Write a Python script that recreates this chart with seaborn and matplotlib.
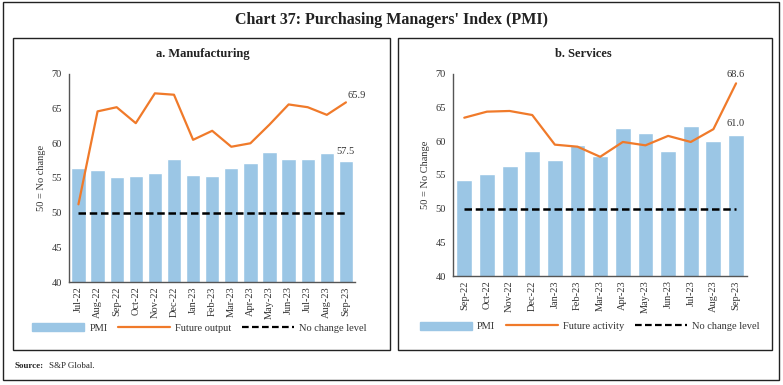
import numpy as np
import pandas as pd
import seaborn as sns
import matplotlib.pyplot as plt
from matplotlib.patches import Rectangle, Patch
from matplotlib.lines import Line2D

sns.set_theme(style="white")
plt.rcParams['font.family'] = ['Liberation Serif', 'DejaVu Serif']

# Data
mfg_months = ['Jul-22', 'Aug-22', 'Sep-22', 'Oct-22', 'Nov-22', 'Dec-22', 'Jan-23', 'Feb-23',
              'Mar-23', 'Apr-23', 'May-23', 'Jun-23', 'Jul-23', 'Aug-23', 'Sep-23']
mfg_pmi = [56.4, 56.2, 55.1, 55.3, 55.7, 57.8, 55.4, 55.3, 56.4, 57.2, 58.7, 57.8, 57.7, 58.6, 57.5]
mfg_future = [51.2, 64.6, 65.2, 62.9, 67.2, 67.0, 60.5, 61.8, 59.5, 60.0, 62.7, 65.6, 65.2, 64.1, 65.9]

svc_months = ['Sep-22', 'Oct-22', 'Nov-22', 'Dec-22', 'Jan-23', 'Feb-23', 'Mar-23', 'Apr-23',
              'May-23', 'Jun-23', 'Jul-23', 'Aug-23', 'Sep-23']
svc_pmi = [54.3, 55.1, 56.4, 58.5, 57.2, 59.4, 57.8, 62.0, 61.2, 58.5, 62.3, 60.1, 61.0]
svc_future = [63.5, 64.4, 64.5, 63.9, 59.5, 59.2, 57.7, 59.9, 59.4, 60.8, 59.9, 61.8, 68.6]

no_change = 50

bar_color = '#9BC6E5'
line_color = '#F07A2A'
text_color = '#333333'

fig = plt.figure(figsize=(7.83, 3.85), dpi=100)

# Frames
fig.patches.append(Rectangle((0.004, 0.012), 0.991, 0.983, transform=fig.transFigure,
                             fill=False, edgecolor='#222222', linewidth=1.0))
fig.patches.append(Rectangle((0.017, 0.091), 0.481, 0.810, transform=fig.transFigure,
                             fill=False, edgecolor='#222222', linewidth=1.0))
fig.patches.append(Rectangle((0.508, 0.091), 0.478, 0.810, transform=fig.transFigure,
                             fill=False, edgecolor='#222222', linewidth=1.0))

fig.text(0.5, 0.947, "Chart 37: Purchasing Managers' Index (PMI)", ha='center', va='center',
         fontsize=11.5, fontweight='bold', color='#222222')
fig.text(0.019, 0.05, 'Source:', fontsize=6.5, fontweight='bold', va='center')
fig.text(0.062, 0.05, 'S&P Global.', fontsize=6.5, va='center')


def draw_panel(rect, months, pmi, future, title, title_x, ylabel, future_label, bar_width, leg_xy):
    ax = fig.add_axes(rect)
    df = pd.DataFrame({'month': months, 'pmi': pmi, 'future': future,
                       'base': [no_change] * len(months)})
    df['pos'] = np.arange(len(df))
    sns.barplot(data=df, x='month', y='pmi', color=bar_color, width=bar_width,
                saturation=1, ax=ax)
    sns.lineplot(data=df, x='pos', y='future', color=line_color, linewidth=1.6, ax=ax)
    sns.lineplot(data=df, x='pos', y='base', color='black', linewidth=1.8,
                 linestyle=(0, (3, 1.5)), ax=ax)
    ax.set_ylim(40, 70)
    ax.set_yticks(range(40, 71, 5))
    ax.set_xlim(-0.5, len(df) - 0.5)
    ax.set_xticks(np.arange(len(df)))
    ax.set_xticklabels(months, rotation=90, fontsize=7.5, color=text_color)
    ax.set_xticks(np.arange(len(df) + 1) - 0.5, minor=True)
    ax.tick_params(axis='x', which='major', length=0, pad=3)
    ax.tick_params(axis='x', which='minor', length=3, color='#555555', width=0.8)
    ax.tick_params(axis='y', length=3, color='#555555', width=0.8, labelsize=7.5, pad=2,
                   labelcolor=text_color)
    ax.set_xlabel('')
    ax.set_ylabel(ylabel, fontsize=7.5, color=text_color)
    for s in ['top', 'right']:
        ax.spines[s].set_visible(False)
    for s in ['left', 'bottom']:
        ax.spines[s].set_color('#555555')
        ax.spines[s].set_linewidth(1.0)
    fig.text(title_x, 0.86, title, fontsize=9, fontweight='bold', ha='center', va='center',
             color='#222222')
    handles = [Patch(color=bar_color, label='PMI'),
               Line2D([], [], color=line_color, linewidth=1.6, label=future_label),
               Line2D([], [], color='black', linewidth=1.6, linestyle=(0, (3, 1.5)),
                      label='No change level')]
    fig.legend(handles=handles, loc='center', bbox_to_anchor=leg_xy, ncol=3,
               frameon=False, fontsize=7.5, handlelength=5.0, handleheight=0.8,
               columnspacing=1.0, handletextpad=0.5, labelcolor=text_color)
    return ax, df


ax1, d1 = draw_panel([0.088, 0.2675, 0.366, 0.5405], mfg_months, mfg_pmi, mfg_future,
                     'a. Manufacturing', 0.259, '50 = No change', 'Future output', 0.75,
                     (0.255, 0.148))
last = d1.iloc[-1]
ax1.annotate(f"{last['future']:.1f}", (last['pos'], last['future']), xytext=(1, 2),
             textcoords='offset points', fontsize=7.5, color=text_color, va='bottom', ha='left')
ax1.annotate(f"{last['pmi']:.1f}", (last['pos'], last['pmi']), xytext=(0, 3),
             textcoords='offset points', fontsize=7.5, color=text_color, va='bottom', ha='center')

ax2, d2 = draw_panel([0.5785, 0.283, 0.376, 0.525], svc_months, svc_pmi, svc_future,
                     'b. Services', 0.745, '50 = No Change', 'Future activity', 0.7,
                     (0.753, 0.152))
last = d2.iloc[-1]
ax2.annotate(f"{last['future']:.1f}", (last['pos'], last['future']), xytext=(0, 3),
             textcoords='offset points', fontsize=7.5, color=text_color, va='bottom', ha='center')
ax2.annotate(f"{last['pmi']:.1f}", (last['pos'], last['pmi']), xytext=(0, 5),
             textcoords='offset points', fontsize=7.5, color=text_color, va='bottom', ha='center')

plt.savefig('out.png', dpi=100)
